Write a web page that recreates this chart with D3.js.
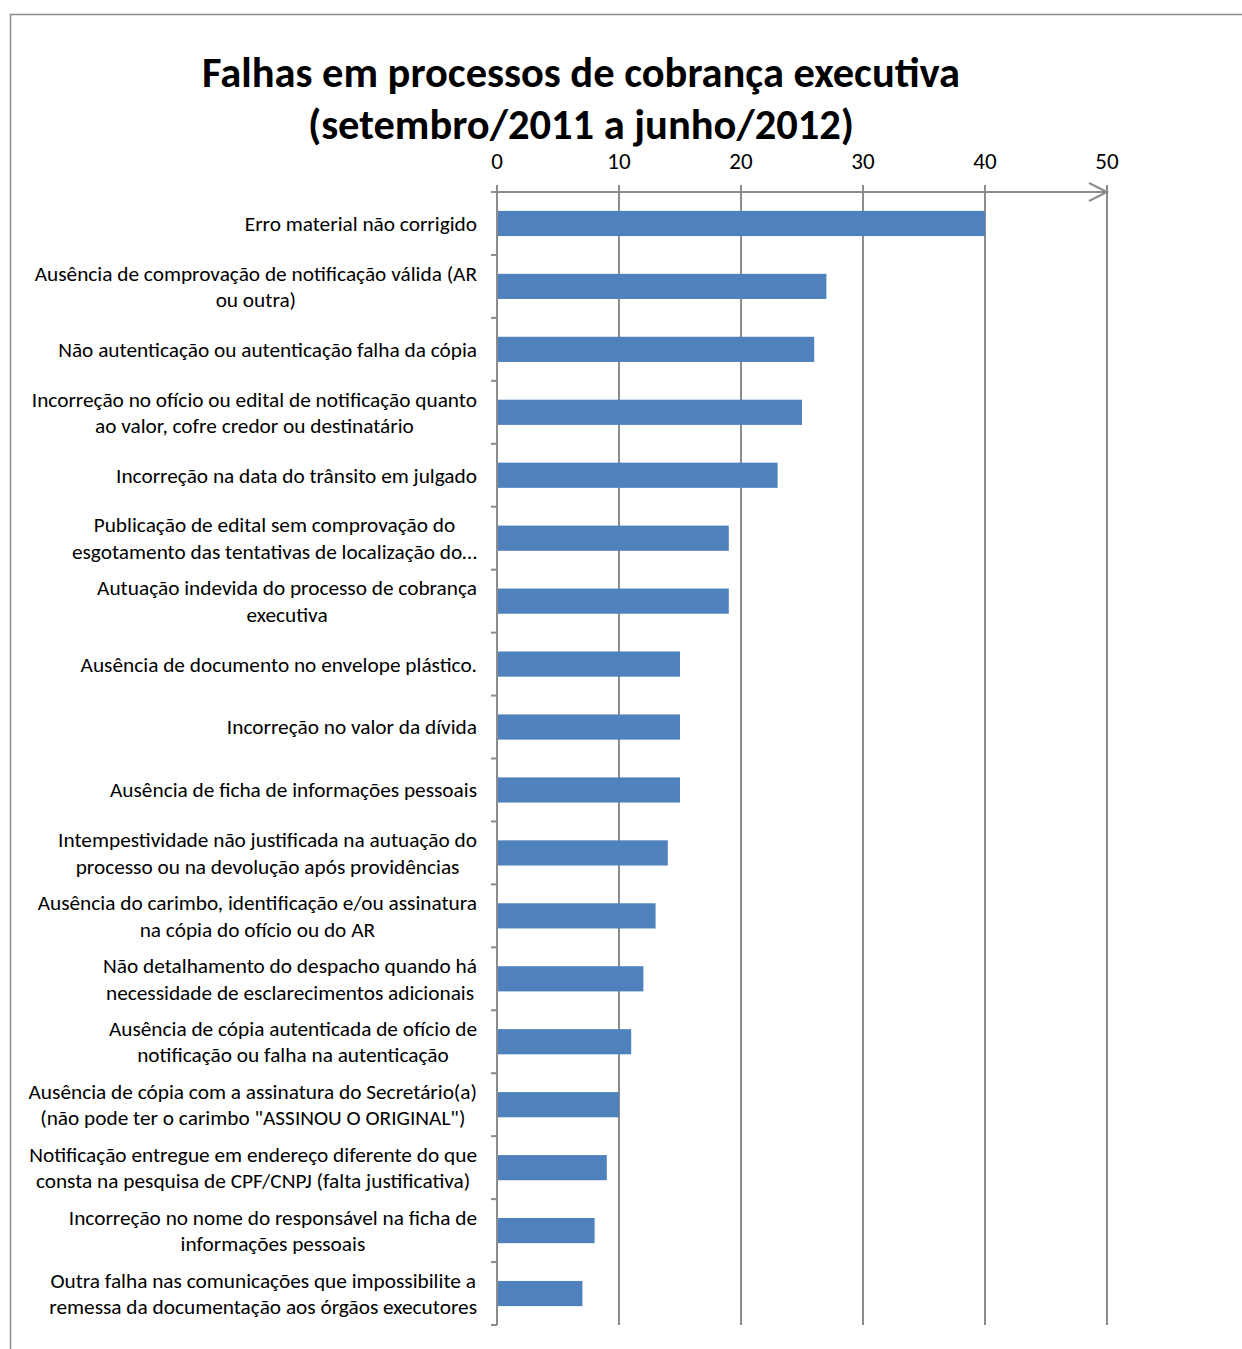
<!DOCTYPE html>
<html><head><meta charset="utf-8">
<script src="https://cdn.jsdelivr.net/npm/d3@7"></script>
<style>
html,body{margin:0;padding:0;background:#fff;}
svg{display:block;}
text{font-family:Carlito,Calibri,"Open Sans",sans-serif;fill:#000;}
</style></head>
<body>
<svg id="chart" width="1242" height="1349"></svg>
<script>
const titleLines = ["Falhas em processos de cobrança executiva", "(setembro/2011 a junho/2012)"];
const categories = [
  ["Erro material não corrigido"],
  ["Ausência de comprovação de notificação válida (AR", "ou outra)"],
  ["Não autenticação ou autenticação falha da cópia"],
  ["Incorreção no ofício ou edital de notificação quanto", "ao valor, cofre credor ou destinatário"],
  ["Incorreção na data do trânsito em julgado"],
  ["Publicação de edital sem comprovação do", "esgotamento das tentativas de localização do…"],
  ["Autuação indevida do processo de cobrança", "executiva"],
  ["Ausência de documento no envelope plástico."],
  ["Incorreção no valor da dívida"],
  ["Ausência de ficha de informações pessoais"],
  ["Intempestividade não justificada na autuação do", "processo ou na devolução após providências"],
  ["Ausência do carimbo, identificação e/ou assinatura", "na cópia do ofício ou do AR"],
  ["Não detalhamento do despacho quando há", "necessidade de esclarecimentos adicionais"],
  ["Ausência de cópia autenticada de ofício de", "notificação ou falha na autenticação"],
  ["Ausência de cópia com a assinatura do Secretário(a)", "(não pode ter o carimbo \"ASSINOU O ORIGINAL\")"],
  ["Notificação entregue em endereço diferente do que", "consta na pesquisa de CPF/CNPJ (falta justificativa)"],
  ["Incorreção no nome do responsável na ficha de", "informações pessoais"],
  ["Outra falha nas comunicações que impossibilite a", "remessa da documentação aos órgãos executores"]
];
const values = [40, 27, 26, 25, 23, 19, 19, 15, 15, 15, 14, 13, 12, 11, 10, 9, 8, 7];
const xTicks = [0, 10, 20, 30, 40, 50];

(function () {
const svg = d3.select("#chart");
const gridColor = "#8c8c8c";
const barColor = "#4f81bd";

svg.append("rect").attr("x", 10.5).attr("y", 14.5).attr("width", 1300).attr("height", 1400)
  .attr("fill", "none").attr("stroke", "#8c8c8c").attr("stroke-width", 1.5);

const pL = 497, pR = 1107, pT = 192, pB = 1325;
const x = d3.scaleLinear().domain([0, 50]).range([pL, pR]);
const idx = d3.range(categories.length);
const y = d3.scaleBand().domain(idx).range([pT, pB]).paddingInner(0.6).paddingOuter(0.3);
const yb = d3.scaleBand().domain(idx).range([pT, pB]);

const title = svg.append("text").attr("text-anchor", "middle")
  .style("font-size", "42.5px").style("font-weight", "bold");
titleLines.forEach((t, i) => {
  title.append("tspan").attr("x", 581).attr("y", 87 + i * 52).text(t);
});

svg.append("g").selectAll("line").data(xTicks).join("line")
  .attr("x1", d => x(d)).attr("x2", d => x(d))
  .attr("y1", pT - 7).attr("y2", pB)
  .attr("stroke", gridColor).attr("stroke-width", 2);

svg.append("g").selectAll("text").data(xTicks).join("text")
  .attr("x", d => x(d)).attr("y", 169).attr("text-anchor", "middle")
  .style("font-size", "23px").text(d => d);

svg.append("line").attr("x1", pL).attr("x2", pR).attr("y1", pT).attr("y2", pT)
  .attr("stroke", gridColor).attr("stroke-width", 2);
svg.append("path")
  .attr("d", `M${pR - 18},${pT - 9} L${pR},${pT} L${pR - 18},${pT + 9}`)
  .attr("fill", "none").attr("stroke", gridColor).attr("stroke-width", 2);

svg.append("g").selectAll("rect").data(values).join("rect")
  .attr("x", x(0)).attr("y", (d, i) => y(i))
  .attr("width", d => x(d) - x(0)).attr("height", y.bandwidth())
  .attr("fill", barColor);

svg.append("line").attr("x1", pL).attr("x2", pL).attr("y1", pT).attr("y2", pB)
  .attr("stroke", gridColor).attr("stroke-width", 2);
svg.append("g").selectAll("line").data(d3.range(categories.length + 1)).join("line")
  .attr("x1", pL - 6).attr("x2", pL)
  .attr("y1", i => pT + i * yb.step()).attr("y2", i => pT + i * yb.step())
  .attr("stroke", gridColor).attr("stroke-width", 2);

const labelRight = 477;
const lineH = 26.5;
const lg = svg.append("g");
categories.forEach((lines, i) => {
  const cy = yb(i) + yb.bandwidth() / 2;
  const g = lg.append("g");
  const texts = lines.map((t, j) => g.append("text")
    .attr("y", cy + (j - (lines.length - 1) / 2) * lineH)
    .attr("dy", "0.35em").attr("text-anchor", "middle")
    .style("font-size", "21.3px").text(t));
  const w = d3.max(texts, t => t.node().getComputedTextLength());
  texts.forEach(t => t.attr("x", labelRight - w / 2));
});
})();
</script>
</body></html>
